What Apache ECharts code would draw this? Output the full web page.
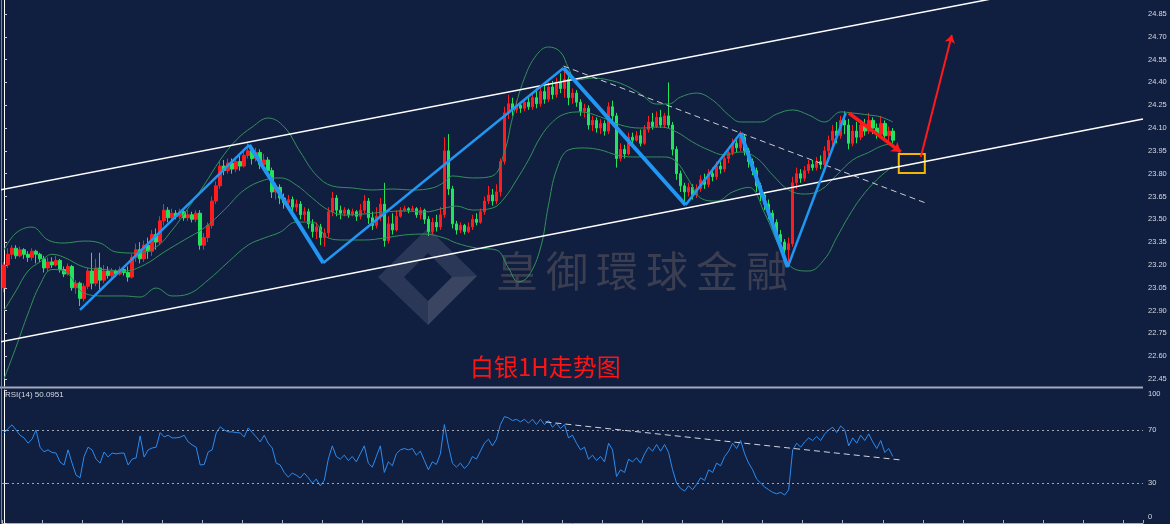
<!DOCTYPE html>
<html><head><meta charset="utf-8">
<script src="https://cdn.jsdelivr.net/npm/echarts@6/dist/echarts.min.js"></script>
<style>html,body{margin:0;padding:0;background:#101e40;}#c{width:1170px;height:524px;}</style>
</head><body><div id="c"></div>
<script>
// ---------- DATA ----------
const opens = [
23.05,23.20,23.27,23.31,23.26,23.30,23.27,23.25,23.29,23.27,
23.24,23.18,23.22,23.20,23.23,23.17,23.14,23.19,23.05,23.08,
22.98,23.06,23.16,23.08,23.18,23.10,23.16,23.13,23.16,23.14,
23.17,23.15,23.12,23.25,23.30,23.24,23.33,23.29,23.40,23.35,
23.49,23.56,23.51,23.54,23.52,23.55,23.51,23.53,23.50,23.54,
23.33,23.38,23.46,23.62,23.72,23.85,23.82,23.87,23.83,23.88,
23.85,23.92,23.95,23.90,23.94,23.86,23.89,23.82,23.68,23.71,
23.64,23.61,23.63,23.58,23.60,23.53,23.55,23.47,23.42,23.45,
23.38,23.41,23.55,23.64,23.56,23.54,23.56,23.53,23.55,23.52,
23.56,23.62,23.51,23.46,23.52,23.60,23.36,23.47,23.43,23.52,
23.56,23.57,23.56,23.57,23.53,23.56,23.50,23.42,23.48,23.45,
23.53,23.95,23.70,23.47,23.43,23.46,23.42,23.45,23.50,23.48,
23.55,23.62,23.66,23.62,23.68,23.88,24.20,24.26,24.22,24.25,
24.23,24.27,24.24,24.30,24.26,24.34,24.29,24.37,24.32,24.40,
24.36,24.42,24.30,24.33,24.27,24.21,24.23,24.12,24.15,24.10,
24.13,24.08,24.24,24.18,23.90,23.96,23.93,24.04,24.02,24.05,
24.00,24.09,24.14,24.11,24.17,24.12,24.18,24.12,23.96,23.80,
23.72,23.68,23.71,23.66,23.70,23.76,23.73,23.80,23.78,23.85,
23.83,23.90,23.94,24.00,23.97,24.04,23.95,23.88,23.82,23.72,
23.66,23.60,23.54,23.48,23.40,23.35,23.30,23.34,23.74,23.80,
23.77,23.82,23.86,23.84,23.88,23.86,23.95,24.02,24.08,24.05,
24.15,24.12,24.00,24.08,24.04,24.12,24.08,24.15,24.10,24.06,
24.13,24.05,24.08];
const closes = [
23.20,23.27,23.31,23.26,23.30,23.27,23.25,23.29,23.27,23.24,
23.18,23.22,23.20,23.23,23.17,23.14,23.19,23.05,23.08,22.98,
23.06,23.16,23.08,23.18,23.10,23.16,23.13,23.16,23.14,23.17,
23.15,23.12,23.25,23.30,23.24,23.33,23.29,23.40,23.35,23.49,
23.56,23.51,23.54,23.52,23.55,23.51,23.53,23.50,23.54,23.33,
23.38,23.46,23.62,23.72,23.85,23.82,23.87,23.83,23.88,23.85,
23.92,23.95,23.90,23.94,23.86,23.89,23.82,23.68,23.71,23.64,
23.61,23.63,23.58,23.60,23.53,23.55,23.47,23.42,23.45,23.38,
23.41,23.55,23.64,23.56,23.54,23.56,23.53,23.55,23.52,23.56,
23.62,23.51,23.46,23.52,23.60,23.36,23.47,23.43,23.52,23.56,
23.57,23.56,23.57,23.53,23.56,23.50,23.42,23.48,23.45,23.53,
23.95,23.70,23.47,23.43,23.46,23.42,23.45,23.50,23.48,23.55,
23.62,23.66,23.62,23.68,23.88,24.20,24.26,24.22,24.25,24.23,
24.27,24.24,24.30,24.26,24.34,24.29,24.37,24.32,24.40,24.36,
24.42,24.30,24.33,24.27,24.21,24.23,24.12,24.15,24.10,24.13,
24.08,24.24,24.18,23.90,23.96,23.93,24.04,24.02,24.05,24.00,
24.09,24.14,24.11,24.17,24.12,24.18,24.12,23.96,23.80,23.72,
23.68,23.71,23.66,23.70,23.76,23.73,23.80,23.78,23.85,23.83,
23.90,23.94,24.00,23.97,24.04,23.95,23.88,23.82,23.72,23.66,
23.60,23.54,23.48,23.40,23.35,23.30,23.34,23.74,23.80,23.77,
23.82,23.86,23.84,23.88,23.86,23.95,24.02,24.08,24.05,24.15,
24.12,24.00,24.08,24.04,24.12,24.08,24.15,24.10,24.06,24.13,
24.05,24.08,24.02];
const lows = [
23.02,23.18,23.24,23.24,23.25,23.24,23.22,23.23,23.21,23.22,
23.15,23.16,23.18,23.19,23.15,23.12,23.13,23.03,23.01,22.93,
22.96,23.04,23.04,23.06,23.03,23.08,23.11,23.11,23.12,23.13,
23.13,23.09,23.11,23.22,23.21,23.22,23.24,23.26,23.30,23.33,
23.46,23.48,23.49,23.50,23.50,23.49,23.49,23.48,23.48,23.30,
23.30,23.35,23.44,23.60,23.70,23.79,23.80,23.80,23.81,23.82,
23.84,23.90,23.86,23.88,23.83,23.83,23.80,23.64,23.63,23.60,
23.57,23.58,23.55,23.55,23.50,23.49,23.44,23.38,23.37,23.33,
23.32,23.38,23.52,23.52,23.50,23.52,23.51,23.52,23.49,23.50,
23.54,23.47,23.43,23.44,23.49,23.32,23.34,23.40,23.42,23.51,
23.55,23.54,23.55,23.51,23.50,23.47,23.39,23.40,23.42,23.43,
23.51,23.66,23.44,23.40,23.41,23.40,23.41,23.43,23.46,23.47,
23.53,23.60,23.59,23.60,23.65,23.86,24.16,24.18,24.20,24.20,
24.21,24.22,24.22,24.23,24.24,24.26,24.27,24.29,24.30,24.33,
24.30,24.25,24.26,24.24,24.18,24.17,24.09,24.08,24.07,24.06,
24.05,24.06,24.14,23.84,23.88,23.90,23.92,24.00,24.01,23.98,
23.99,24.07,24.09,24.10,24.10,24.10,24.10,23.92,23.76,23.68,
23.62,23.65,23.63,23.64,23.68,23.70,23.71,23.75,23.76,23.80,
23.81,23.87,23.92,23.94,23.95,23.92,23.84,23.79,23.68,23.62,
23.56,23.50,23.44,23.36,23.29,23.24,23.22,23.32,23.70,23.74,
23.75,23.80,23.82,23.82,23.83,23.84,23.92,23.98,24.00,24.03,
24.06,23.96,23.98,24.00,24.02,24.05,24.06,24.06,24.03,24.04,
24.02,24.01,24.00];
const highs = [
23.22,23.31,23.33,23.33,23.32,23.31,23.29,23.31,23.30,23.28,
23.26,23.25,23.25,23.26,23.24,23.19,23.21,23.20,23.10,23.09,
23.08,23.18,23.28,23.24,23.28,23.20,23.19,23.18,23.17,23.19,
23.18,23.19,23.27,23.34,23.35,23.36,23.38,23.43,23.44,23.52,
23.60,23.58,23.57,23.56,23.57,23.56,23.56,23.55,23.56,23.56,
23.41,23.48,23.65,23.75,23.88,23.89,23.90,23.90,23.91,23.92,
23.96,24.00,23.98,23.97,23.96,23.93,23.91,23.84,23.74,23.73,
23.67,23.66,23.65,23.63,23.62,23.58,23.57,23.50,23.48,23.47,
23.44,23.58,23.68,23.66,23.59,23.58,23.57,23.57,23.56,23.60,
23.66,23.64,23.55,23.58,23.64,23.74,23.52,23.54,23.56,23.58,
23.59,23.58,23.59,23.58,23.58,23.57,23.52,23.51,23.53,23.58,
24.04,24.06,23.72,23.49,23.48,23.47,23.48,23.53,23.54,23.57,
23.65,23.72,23.70,23.73,23.90,24.24,24.32,24.30,24.28,24.27,
24.29,24.30,24.33,24.36,24.37,24.38,24.40,24.41,24.43,24.46,
24.49,24.45,24.36,24.35,24.29,24.26,24.25,24.18,24.17,24.16,
24.15,24.27,24.28,24.20,24.00,23.99,24.07,24.07,24.08,24.09,
24.12,24.18,24.20,24.21,24.22,24.20,24.40,24.14,23.98,23.82,
23.74,23.74,23.73,23.73,23.79,23.80,23.83,23.84,23.88,23.88,
23.93,23.97,24.03,24.04,24.08,24.06,23.97,23.90,23.84,23.74,
23.68,23.63,23.56,23.50,23.43,23.37,23.38,23.78,23.84,23.83,
23.85,23.89,23.89,23.91,23.92,23.98,24.05,24.12,24.14,24.18,
24.21,24.16,24.12,24.14,24.15,24.16,24.20,24.17,24.13,24.18,
24.15,24.11,24.10];
const rsiValues = [
67.7,71,73.8,70,66,64,60,63,70,57,
53.5,55,53,52.6,45.8,43.6,55,45,36,34,
50,57,55,48,45,53.4,49.6,52.6,52,52.5,
52.6,43.6,48,49,65.5,49.6,55,56.4,57,68,
64.7,66,64,64,64.5,66,61,58.7,57,43.6,
44,53.4,55,67.7,72.3,70,68.5,68.5,68,67.7,
64.7,71.5,68,64.7,61,66,60,56.4,45,43.6,
38,34.5,37.5,36,33.8,37.5,34,30,33,28,
32,48,58,50,48,51,47,50,46,52,
58,45,42,50,58,38,46,43,52,55,
56,55,56,51,54,47,40,46,44,52,
74,58,45,42,45,41,44,50,48,54,
60,63,58,63,74,80,79,77,78,76,
78,75,78,74,78,74,77,72,75,71,
74,64,66,60,55,57,48,51,47,50,
46,60,55,35,40,38,48,46,49,45,
52,57,54,59,54,59,53,40,30,26,
24,28,25,29,34,32,40,38,45,43,
50,54,60,56,62,52,45,40,33,30,
27,25,23,22,23,21,25,55,60,57,
61,64,62,65,62,67,70,72,68,73,
70,58,64,60,66,62,67,61,56,62,
53,56,50.0951];
// Bollinger band readings: [bar index, price]
const bbUpper = [[0,23.298],[3,23.41],[7,23.449],[11,23.364],[15,23.344],[20,23.357],[24,23.344],[28,23.285],[33,23.278],[38,23.318],[42,23.429],[46,23.574],[50,23.726],[54,23.89],[58,24.021],[62,24.107],[66,24.166],[70,24.107],[74,23.943],[78,23.791],[82,23.719],[87,23.706],[92,23.693],[97,23.699],[102,23.693],[107,23.706],[110,23.745],[112,23.785],[117,23.772],[122,23.785],[125,23.943],[127,24.166],[130,24.429],[133,24.58],[136,24.633],[139,24.6],[141,24.495],[143,24.416],[147,24.429],[151,24.416],[155,24.383],[159,24.324],[163,24.258],[166,24.258],[169,24.304],[173,24.33],[177,24.284],[181,24.186],[184,24.14],[189,24.14],[193,24.192],[197,24.219],[201,24.186],[205,24.14],[209,24.206],[212,24.199],[216,24.186],[219,24.173],[222,24.14]];
const bbMiddle = [[0,22.90],[3,23.03],[6,23.16],[9,23.22],[12,23.27],[15,23.25],[20,23.186],[25,23.17],[30,23.16],[35,23.2],[40,23.285],[45,23.364],[50,23.443],[55,23.561],[60,23.693],[65,23.758],[69,23.772],[73,23.726],[77,23.64],[81,23.561],[85,23.528],[90,23.535],[95,23.548],[100,23.555],[105,23.548],[110,23.574],[113,23.587],[117,23.561],[122,23.574],[125,23.64],[128,23.758],[131,23.89],[134,24.041],[137,24.14],[140,24.192],[144,24.206],[149,24.173],[154,24.12],[159,24.1],[164,24.107],[168,24.074],[172,24.008],[176,23.956],[180,23.923],[184,23.943],[188,23.903],[192,23.791],[196,23.693],[200,23.666],[204,23.693],[208,23.791],[212,23.89],[216,23.94],[219,23.98],[222,24.0]];
const bbLower = [[0,22.45],[3,22.66],[6,22.88],[9,23.07],[12,23.17],[15,23.16],[20,23.015],[25,22.996],[30,22.996],[34,22.989],[38,23.048],[42,22.996],[46,23.009],[51,23.101],[56,23.219],[61,23.331],[65,23.377],[69,23.416],[73,23.482],[77,23.482],[81,23.377],[85,23.364],[90,23.364],[95,23.377],[100,23.397],[105,23.403],[110,23.377],[113,23.344],[118,23.311],[123,23.298],[126,23.18],[128.5,23.088],[131,23.127],[134,23.311],[136,23.593],[138,23.824],[141,23.956],[145,23.969],[149,23.956],[153,23.923],[157,23.91],[161,23.91],[165,23.91],[168,23.877],[171,23.76],[174,23.64],[178,23.62],[182,23.68],[186,23.71],[190,23.54],[194,23.30],[197,23.18],[201,23.16],[205,23.24],[208,23.38],[211,23.52],[214,23.64],[218,23.76],[222,23.85]];
// analyst drawings in [bar index, price]
const zigzag = [[19,22.904],[61.25,23.989],[79.75,23.213],[139.75,24.495],[170.25,23.594],[184,24.068],[195.75,23.186],[210.25,24.199]];
const channelUpper = [[-1,23.693],[284.5,25.141]];
const channelLower = [[-1,22.693],[284.5,24.16]];
const resistLine = [[139.75,24.508],[230.25,23.607]];
const rsiTrend = [[135.25,76.0],[224,47.4]];
const arrowDown = [[211,24.199],[224,23.943]];
const arrowUp = [[229,23.91],[236.75,24.712]];
const targetBox = [[223.5,23.929],[230,23.805]];
const priceTicks = [22.45,22.60,22.75,22.90,23.05,23.20,23.35,23.50,23.65,23.80,23.95,24.10,24.25,24.40,24.55,24.70,24.85];
const rsiTicks = [0,30,70,100];
const rsiLevels = [30,70];
const slotCount = 285;
const titleText = '白银1H走势图';
const watermarkText = '皇御環球金融';
const rsiLabel = 'RSI(14)';
const rsiLast = 50.0951;

// ---------- CHART ----------
const chart = echarts.init(document.getElementById('c'));
const slots = Array.from({length: slotCount}, (_, i) => String(i));
const candleData = opens.map((o, i) => [o, closes[i], lows[i], highs[i]]);
const zigSegs = zigzag.slice(1).map((p, k) => ({
  coords: [zigzag[k], p],
  lineStyle: {width: p[1] < zigzag[k][1] ? 4 : 2.5}
}));
const FONT = 'Liberation Sans';
const wmChars = watermarkText.split('').map((ch, k) => ({
  type: 'text', z: -5, left: 496 + k * 50, top: 250,
  style: {text: ch, fill: '#3b3e50', font: '42px "Noto Sans CJK TC"'}
}));
const bandStyle = {type: 'line', xAxisIndex: 1, yAxisIndex: 0, showSymbol: false, smooth: 0.4,
  lineStyle: {color: '#33915b', width: 1}, silent: true, z: 3};

chart.setOption({
  backgroundColor: '#101e40',
  animation: false,
  grid: [
    {left: 2, right: 27, top: 0, height: 386},
    {left: 2, right: 27, top: 390, height: 133}
  ],
  xAxis: [
    {type: 'category', gridIndex: 0, data: slots, boundaryGap: true, show: false},
    {type: 'value', gridIndex: 0, min: -0.5, max: slotCount - 0.5, show: false},
    {type: 'category', gridIndex: 1, data: slots, boundaryGap: true,
      axisLine: {show: true, lineStyle: {color: '#a9afbd', width: 1}},
      axisTick: {show: true, inside: true, length: 3, interval: 9, lineStyle: {color: '#a9afbd'}},
      axisLabel: {show: false}, splitLine: {show: false}},
    {type: 'value', gridIndex: 1, min: -0.5, max: slotCount - 0.5, show: false}
  ],
  yAxis: [
    {type: 'value', gridIndex: 0, position: 'right', min: 22.404, max: 24.942, scale: true,
      axisLine: {show: true, lineStyle: {color: '#ffffff', width: 1}},
      axisTick: {show: true, length: 3, customValues: priceTicks, lineStyle: {color: '#d0d4dc'}},
      axisLabel: {customValues: priceTicks, color: '#d6dae2', fontSize: 7.5, fontFamily: FONT, margin: 5,
        formatter: v => v.toFixed(2)},
      splitLine: {show: false}},
    {type: 'value', gridIndex: 1, position: 'right', min: 0, max: 100,
      axisLine: {show: true, lineStyle: {color: '#ffffff', width: 1}},
      axisTick: {show: true, length: 3, customValues: rsiTicks, lineStyle: {color: '#d0d4dc'}},
      axisLabel: {customValues: rsiTicks, color: '#d6dae2', fontSize: 7.5, fontFamily: FONT, margin: 5,
        formatter: v => v === 100 ? '{t|100}' : (v === 0 ? '{b|0}' : '{m|' + v + '}'),
        rich: {t: {padding: [8, 0, 0, 0], fontSize: 7.5, color: '#d6dae2'},
               b: {padding: [0, 0, 12, 0], fontSize: 7.5, color: '#d6dae2'},
               m: {fontSize: 7.5, color: '#d6dae2'}}},
      splitLine: {show: false}}
  ],
  graphic: {elements: [
    {type: 'polygon', z: -6, shape: {points: [[378,277],[428,228],[477,276],[428,325]]},
      style: {fill: 'rgba(140,145,165,0.22)'}},
    {type: 'polygon', z: -6, shape: {points: [[404,277],[428,253],[452,277],[428,301]]},
      style: {fill: '#101e40'}},
    {type: 'polygon', z: -6, shape: {points: [[428,301],[452,277],[477,276],[428,325]]},
      style: {fill: 'rgba(170,170,180,0.12)'}},
    ...wmChars,
    {type: 'text', left: 470, top: 355, style: {text: titleText, fill: '#ff1414',
      font: '24px "Noto Sans CJK SC"'}},
    {type: 'text', left: 5, top: 391, style: {text: rsiLabel + ' ' + rsiLast.toFixed(4),
      fill: '#d6dae2', font: '8px "Liberation Sans"'}},
    {type: 'line', shape: {x1: 0, y1: 387.5, x2: 1143, y2: 387.5}, style: {stroke: '#a3aabb', lineWidth: 2}},
    {type: 'line', shape: {x1: 1.5, y1: 0, x2: 1.5, y2: 523}, style: {stroke: '#7e8698', lineWidth: 1}}
  ]},
  series: [
    {type: 'candlestick', xAxisIndex: 0, yAxisIndex: 0, data: candleData, barWidth: 3,
      itemStyle: {color: '#ff1c1c', color0: '#22e35c', borderColor: '#ff1c1c', borderColor0: '#22e35c', borderWidth: 1},
      markLine: {silent: true, symbol: ['none', 'none'], data: [{yAxis: closes[closes.length - 1]}],
        lineStyle: {opacity: 0},
        label: {show: true, position: 'end', distance: 2, formatter: p => p.value.toFixed(2),
          backgroundColor: '#ffffff', color: '#101e40', fontSize: 7.5, fontFamily: FONT, padding: [1, 2, 0, 2]}}},
    Object.assign({data: bbUpper}, bandStyle),
    Object.assign({data: bbMiddle}, bandStyle),
    Object.assign({data: bbLower}, bandStyle),
    {type: 'line', xAxisIndex: 1, yAxisIndex: 0, data: channelUpper, showSymbol: false, clip: true, silent: true,
      lineStyle: {color: '#ffffff', width: 1.5}, z: 4},
    {type: 'line', xAxisIndex: 1, yAxisIndex: 0, data: channelLower, showSymbol: false, clip: true, silent: true,
      lineStyle: {color: '#ffffff', width: 1.5}, z: 4},
    {type: 'line', xAxisIndex: 1, yAxisIndex: 0, data: resistLine, showSymbol: false, silent: true,
      lineStyle: {color: '#c9ccd4', width: 1, type: [6, 4]}, z: 4,
      markArea: {silent: true, itemStyle: {color: 'rgba(0,0,0,0)', borderColor: '#f2b705', borderWidth: 2},
        data: [[{coord: targetBox[0]}, {coord: targetBox[1]}]]}},
    {type: 'lines', coordinateSystem: 'cartesian2d', xAxisIndex: 1, yAxisIndex: 0, silent: true, z: 5,
      lineStyle: {color: '#2196f3', width: 3, opacity: 1}, data: zigSegs},
    {type: 'lines', coordinateSystem: 'cartesian2d', xAxisIndex: 1, yAxisIndex: 0, silent: true, z: 6,
      symbol: ['none', 'arrow'], symbolSize: 9,
      lineStyle: {color: '#ff1a1a', width: 3.5, opacity: 1}, data: [{coords: arrowDown}]},
    {type: 'lines', coordinateSystem: 'cartesian2d', xAxisIndex: 1, yAxisIndex: 0, silent: true, z: 6,
      symbol: ['none', 'arrow'], symbolSize: 8,
      lineStyle: {color: '#ff1a1a', width: 2, opacity: 1}, data: [{coords: arrowUp}]},
    {type: 'line', xAxisIndex: 2, yAxisIndex: 1, data: rsiValues, showSymbol: false, silent: true,
      lineStyle: {color: '#2a8cf0', width: 1},
      markLine: {silent: true, symbol: ['none', 'none'], label: {show: false},
        lineStyle: {color: '#a0a6b4', type: [2, 3], width: 1},
        data: rsiLevels.map(v => ({yAxis: v}))}},
    {type: 'line', xAxisIndex: 3, yAxisIndex: 1, data: rsiTrend, showSymbol: false, silent: true,
      lineStyle: {color: '#d0d4dc', width: 1, type: [6, 4]}}
  ]
});
</script></body></html>
